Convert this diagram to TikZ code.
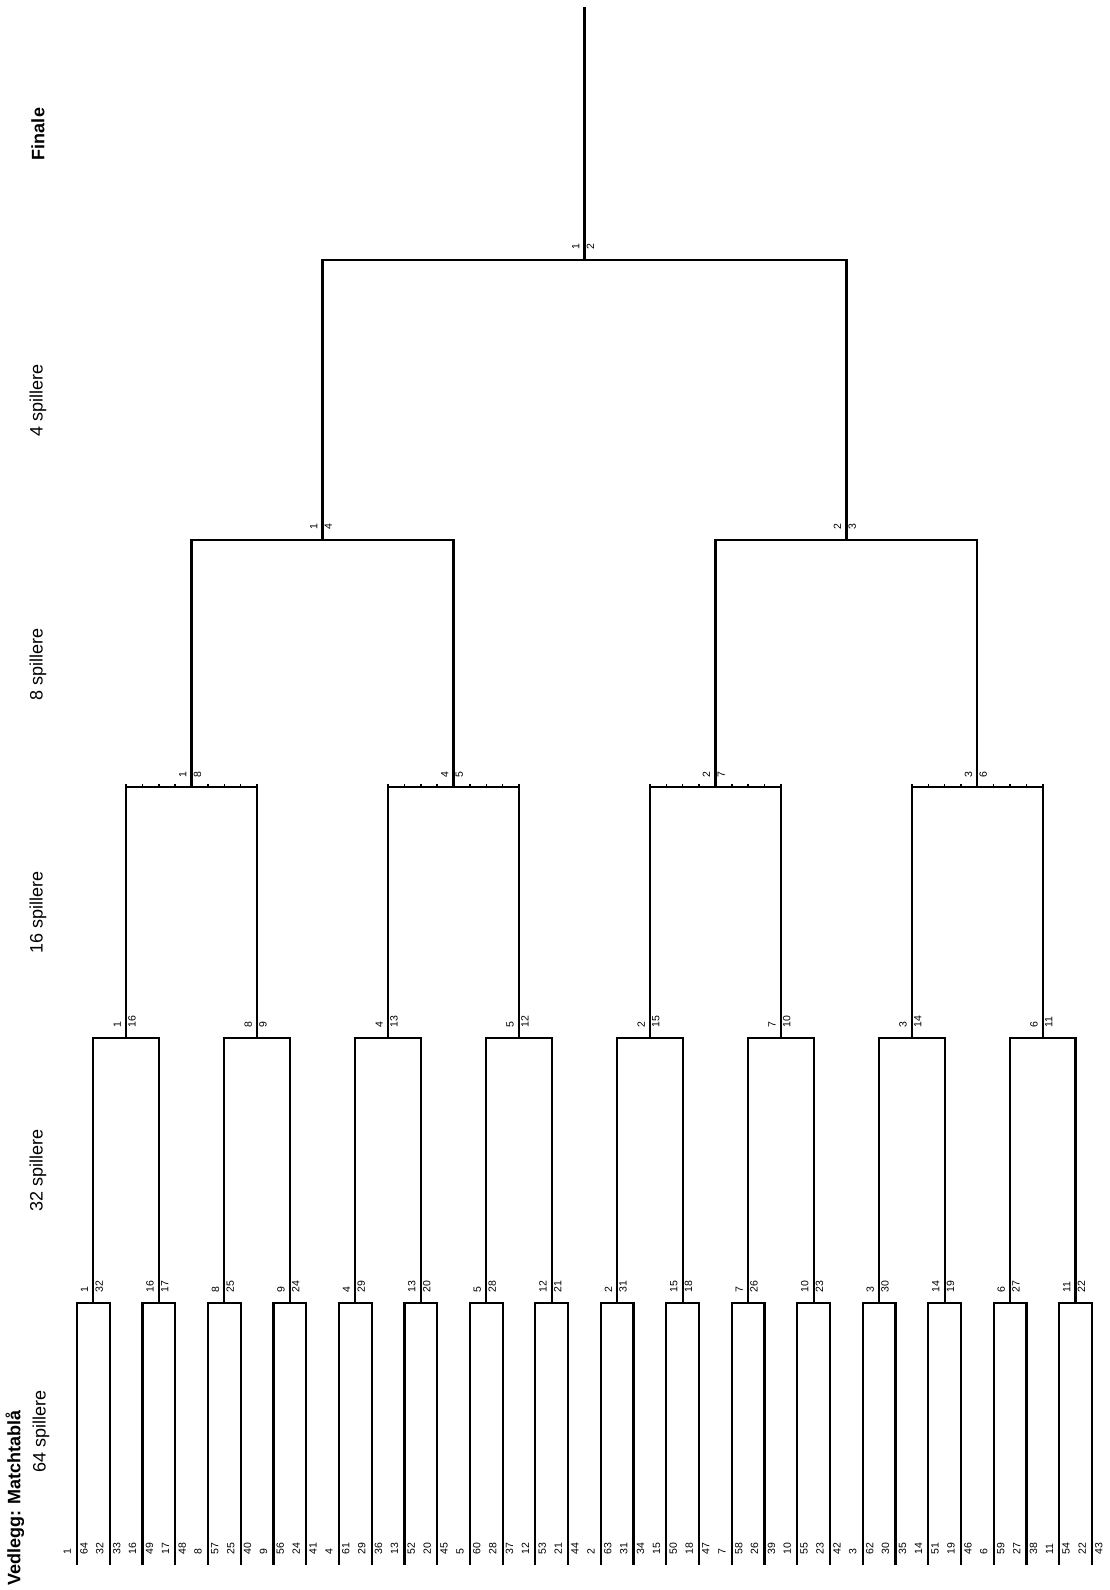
\documentclass[tikz,border=0pt]{standalone}
\usepackage{fontspec}
\setmainfont{Liberation Sans}
\tikzset{
  br/.style={line width=2.2pt, line join=miter, line cap=rect},
  tick/.style={line width=1.5pt},
  num/.style={font=\fontsize{10.5}{10.5}\selectfont, inner sep=0pt, rotate=90},
  numL/.style={num, anchor=south west},
  numR/.style={num, anchor=north west},
  rowlab/.style={font=\fontsize{18}{18}\selectfont, inner sep=0pt, rotate=90, anchor=center},
  rowbold/.style={rowlab, font=\fontsize{18}{18}\selectfont\bfseries},
}
\begin{document}
\begin{tikzpicture}[x=1pt,y=-1pt]
\useasboundingbox (0,0) rectangle (1110,1590);
% ---------- coordinates ----------
\foreach \j in {0,...,15} {
  \pgfmathsetmacro\xa{77+32.74*2*\j}
  \pgfmathsetmacro\xb{\xa+32.74}
  \pgfmathsetmacro\xc{\xa+16.37}
  \coordinate (p\j a) at (\xa,1564);
  \coordinate (p\j b) at (\xb,1564);
  \coordinate (m\j) at (\xc,1303);
}
\foreach \k in {0,...,7} {
  \pgfmathsetmacro\xc{77+16.37+32.74*(4*\k+1)}
  \coordinate (n\k) at (\xc,1038);
}
\foreach \k in {0,...,3} {
  \pgfmathsetmacro\xc{77+16.37+32.74*(8*\k+3)}
  \coordinate (q\k) at (\xc,787);
}
\foreach \k in {0,1} {
  \pgfmathsetmacro\xc{77+16.37+32.74*(16*\k+7)}
  \coordinate (r\k) at (\xc,540);
}
\coordinate (s) at (584.5,260);
\coordinate (top) at (584.5,8);
% ---------- bracket lines ----------
\foreach \j in {0,...,15} {
  \draw[br] (p\j a) |- (m\j) -| (p\j b);
}
\foreach \k in {0,...,7} {
  \pgfmathtruncatemacro\a{2*\k}
  \pgfmathtruncatemacro\b{2*\k+1}
  \draw[br] (m\a) |- (n\k) -| (m\b);
}
\foreach \k in {0,...,3} {
  \pgfmathtruncatemacro\a{2*\k}
  \pgfmathtruncatemacro\b{2*\k+1}
  \draw[br] (n\a) |- (q\k) -| (n\b);
  \foreach \t in {-4,-3,-2,-1,1,2,3,4} {
    \draw[tick] ([xshift=\t*16.37pt]q\k) -- ++(0,-3.5);
  }
}
\foreach \k in {0,1} {
  \pgfmathtruncatemacro\a{2*\k}
  \pgfmathtruncatemacro\b{2*\k+1}
  \draw[br] (q\a) |- (r\k) -| (q\b);
}
\draw[br] (r0) |- (s) -| (r1);
\draw[br] (s) -- (top);
% ---------- bottom labels ----------
\foreach \i/\l/\r in {0/1/64, 1/32/33, 2/16/49, 3/17/48, 4/8/57, 5/25/40, 6/9/56, 7/24/41,
  8/4/61, 9/29/36, 10/13/52, 11/20/45, 12/5/60, 13/28/37, 14/12/53, 15/21/44,
  16/2/63, 17/31/34, 18/15/50, 19/18/47, 20/7/58, 21/26/39, 22/10/55, 23/23/42,
  24/3/62, 25/30/35, 26/14/51, 27/19/46, 28/6/59, 29/27/38, 30/11/54, 31/22/43} {
  \pgfmathsetmacro\x{77+32.74*\i}
  \node[numL] (bl\i) at (\x-6,1555) {\l};
  \node[numR] (bR\i) at (\x+3,1555) {\r};
}
% ---------- 32-level labels ----------
\foreach \j/\l/\r in {0/1/32, 1/16/17, 2/8/25, 3/9/24, 4/4/29, 5/13/20, 6/5/28, 7/12/21,
  8/2/31, 9/15/18, 10/7/26, 11/10/23, 12/3/30, 13/14/19, 14/6/27, 15/11/22} {
  \node[numL] (ml\j) at ([xshift=-5pt,yshift=10pt]m\j) {\l};
  \node[numR] (mr\j) at ([xshift=2pt,yshift=10pt]m\j) {\r};
}
% ---------- 16-level labels ----------
\foreach \k/\l/\r in {0/1/16, 1/8/9, 2/4/13, 3/5/12, 4/2/15, 5/7/10, 6/3/14, 7/6/11} {
  \node[numL] (nl\k) at ([xshift=-5pt,yshift=10pt]n\k) {\l};
  \node[numR] (nr\k) at ([xshift=2pt,yshift=10pt]n\k) {\r};
}
% ---------- 8-level labels ----------
\foreach \k/\l/\r in {0/1/8, 1/4/5, 2/2/7, 3/3/6} {
  \node[numL] (ql\k) at ([xshift=-5pt,yshift=9pt]q\k) {\l};
  \node[numR] (qr\k) at ([xshift=2pt,yshift=9pt]q\k) {\r};
}
% ---------- 4-level labels ----------
\foreach \k/\l/\r in {0/1/4, 1/2/3} {
  \node[numL] (rl\k) at ([xshift=-5pt,yshift=10pt]r\k) {\l};
  \node[numR] (rr\k) at ([xshift=2pt,yshift=10pt]r\k) {\r};
}
\node[numL] (sl) at ([xshift=-5pt,yshift=10pt]s) {1};
\node[numR] (sr) at ([xshift=2pt,yshift=10pt]s) {2};
% ---------- row labels ----------
\node[rowbold] (lfin) at (38,134) {Finale};
\node[rowlab] (l4) at (38,400) {4 spillere};
\node[rowlab] (l8) at (38,664) {8 spillere};
\node[rowlab] (l16) at (38,912) {16 spillere};
\node[rowlab] (l32) at (38,1170) {32 spillere};
\node[rowlab] (l64) at (41,1431) {64 spillere};
\node[rowbold] (lved) at (15,1498) {Vedlegg: Matchtablå};
\end{tikzpicture}
\end{document}
